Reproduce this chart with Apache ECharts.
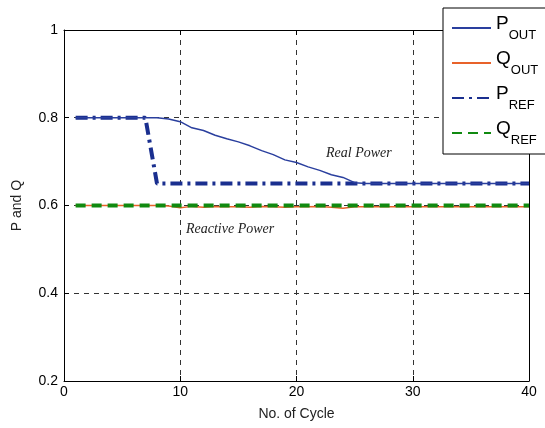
<!DOCTYPE html>
<html>
<head>
<meta charset="utf-8">
<script src="https://cdn.jsdelivr.net/npm/echarts@6/dist/echarts.min.js"></script>
<style>
  html, body { margin: 0; padding: 0; background: #fff; }
  #main { width: 545px; height: 428px; }
</style>
</head>
<body>
<div id="main"></div>
<script>
// cycle numbers 1..40
const cycles = [1, 2, 3, 4, 5, 6, 7, 8, 9, 10, 11, 12, 13, 14, 15, 16, 17, 18, 19, 20,
  21, 22, 23, 24, 25, 26, 27, 28, 29, 30, 31, 32, 33, 34, 35, 36, 37, 38, 39, 40];
const pOut = [0.8, 0.8, 0.8, 0.8, 0.8, 0.8, 0.8, 0.8, 0.797, 0.791,
  0.777, 0.771, 0.760, 0.752, 0.745, 0.736, 0.725, 0.716, 0.704, 0.698,
  0.688, 0.680, 0.670, 0.664, 0.652, 0.65, 0.65, 0.65, 0.65, 0.65,
  0.65, 0.65, 0.65, 0.65, 0.65, 0.65, 0.65, 0.65, 0.65, 0.65];
const qOut = [0.6, 0.6, 0.6, 0.6, 0.6, 0.6, 0.6, 0.6, 0.599, 0.595,
  0.598, 0.596, 0.598, 0.597, 0.597, 0.596, 0.598, 0.597, 0.596, 0.597,
  0.597, 0.598, 0.596, 0.594, 0.597, 0.597, 0.597, 0.597, 0.597, 0.597,
  0.597, 0.597, 0.597, 0.597, 0.597, 0.597, 0.597, 0.597, 0.597, 0.597];
const pRef = [0.8, 0.8, 0.8, 0.8, 0.8, 0.8, 0.8, 0.65, 0.65, 0.65,
  0.65, 0.65, 0.65, 0.65, 0.65, 0.65, 0.65, 0.65, 0.65, 0.65,
  0.65, 0.65, 0.65, 0.65, 0.65, 0.65, 0.65, 0.65, 0.65, 0.65,
  0.65, 0.65, 0.65, 0.65, 0.65, 0.65, 0.65, 0.65, 0.65, 0.65];
const qRef = [0.6, 0.6, 0.6, 0.6, 0.6, 0.6, 0.6, 0.6, 0.6, 0.6,
  0.6, 0.6, 0.6, 0.6, 0.6, 0.6, 0.6, 0.6, 0.6, 0.6,
  0.6, 0.6, 0.6, 0.6, 0.6, 0.6, 0.6, 0.6, 0.6, 0.6,
  0.6, 0.6, 0.6, 0.6, 0.6, 0.6, 0.6, 0.6, 0.6, 0.6];

const legendNames = {
  P_OUT: '{m|P}{s|OUT}',
  Q_OUT: '{m|Q}{s|OUT}',
  P_REF: '{m|P}{s|REF}',
  Q_REF: '{m|Q}{s|REF}'
};

function pairs(vals) {
  return cycles.map(function (c, i) { return [c, vals[i]]; });
}

const font = 'Liberation Sans, Arial, sans-serif';
const gridDash = { color: '#333', width: 1, type: [5, 5] };

const chart = echarts.init(document.getElementById('main'));
chart.setOption({
  animation: false,
  backgroundColor: '#fff',
  grid: { left: 64, right: 16, top: 30, bottom: 47, show: false },
  legend: {
    orient: 'vertical',
    left: 443,
    top: 8,
    padding: [6, 30, 7, 8],
    itemGap: 7,
    itemWidth: 39,
    itemHeight: 14,
    backgroundColor: '#fff',
    borderColor: '#000',
    borderWidth: 1,
    selectedMode: false,
    itemStyle: { opacity: 0 },
    formatter: function (name) { return legendNames[name]; },
    textStyle: {
      color: '#000',
      rich: {
        m: { fontSize: 19, fontFamily: font, verticalAlign: 'top', lineHeight: 28, color: '#000' },
        s: { fontSize: 13, fontFamily: font, verticalAlign: 'bottom', lineHeight: 28, color: '#000' }
      }
    },
    data: ['P_OUT', 'Q_OUT', 'P_REF', 'Q_REF']
  },
  xAxis: [{
    type: 'value',
    min: 0,
    max: 40,
    interval: 10,
    name: 'No. of Cycle',
    nameLocation: 'middle',
    nameGap: 26,
    nameTextStyle: { fontSize: 14, fontFamily: font, color: '#222' },
    axisLine: { lineStyle: { color: '#000', width: 1 } },
    axisTick: { inside: true, length: 5, lineStyle: { color: '#000' } },
    axisLabel: { fontSize: 14, fontFamily: font, color: '#000', margin: 4 },
    splitLine: { show: true, lineStyle: gridDash }
  }, {
    type: 'value',
    position: 'top',
    min: 0,
    max: 40,
    interval: 10,
    axisLine: { show: true, onZero: false, lineStyle: { color: '#000', width: 1 } },
    axisTick: { inside: true, length: 5, lineStyle: { color: '#000' } },
    axisLabel: { show: false },
    splitLine: { show: false }
  }],
  yAxis: [{
    type: 'value',
    min: 0.2,
    max: 1,
    interval: 0.2,
    name: 'P and Q',
    nameLocation: 'middle',
    nameGap: 40,
    nameTextStyle: { fontSize: 14, fontFamily: font, color: '#222' },
    axisLine: { show: true, lineStyle: { color: '#000', width: 1 } },
    axisTick: { show: true, inside: true, length: 5, lineStyle: { color: '#000' } },
    axisLabel: {
      fontSize: 14, fontFamily: font, color: '#000', margin: 6,
      formatter: function (v) { return String(Math.round(v * 10) / 10); }
    },
    splitLine: { show: true, lineStyle: gridDash }
  }, {
    type: 'value',
    position: 'right',
    min: 0.2,
    max: 1,
    interval: 0.2,
    axisLine: { show: true, onZero: false, lineStyle: { color: '#000', width: 1 } },
    axisTick: { show: true, inside: true, length: 5, lineStyle: { color: '#000' } },
    axisLabel: { show: false },
    splitLine: { show: false }
  }],
  series: [
    {
      name: 'Q_REF', type: 'line', symbol: 'none', z: 3,
      lineStyle: { color: '#108a10', width: 4, type: [10, 6] },
      itemStyle: { color: '#108a10' },
      data: pairs(qRef)
    },
    {
      name: 'Q_OUT', type: 'line', symbol: 'none', z: 2,
      lineStyle: { color: '#e8622a', width: 1.5 },
      itemStyle: { color: '#e8622a' },
      data: pairs(qOut)
    },
    {
      name: 'P_REF', type: 'line', symbol: 'none', z: 3,
      lineStyle: { color: '#1a2f8f', width: 4, type: [12, 5, 3, 5] },
      itemStyle: { color: '#1a2f8f' },
      data: pairs(pRef)
    },
    {
      name: 'P_OUT', type: 'line', symbol: 'none', z: 4,
      lineStyle: { color: '#2a3f9e', width: 1.5 },
      itemStyle: { color: '#2a3f9e' },
      data: pairs(pOut)
    }
  ],
  graphic: [
    {
      type: 'text', left: 326, top: 146,
      style: { text: 'Real Power', font: 'italic 14px "Liberation Serif", "DejaVu Serif", serif', fill: '#222' }
    },
    {
      type: 'text', left: 186, top: 222,
      style: { text: 'Reactive Power', font: 'italic 14px "Liberation Serif", "DejaVu Serif", serif', fill: '#222' }
    }
  ]
});
</script>
</body>
</html>
